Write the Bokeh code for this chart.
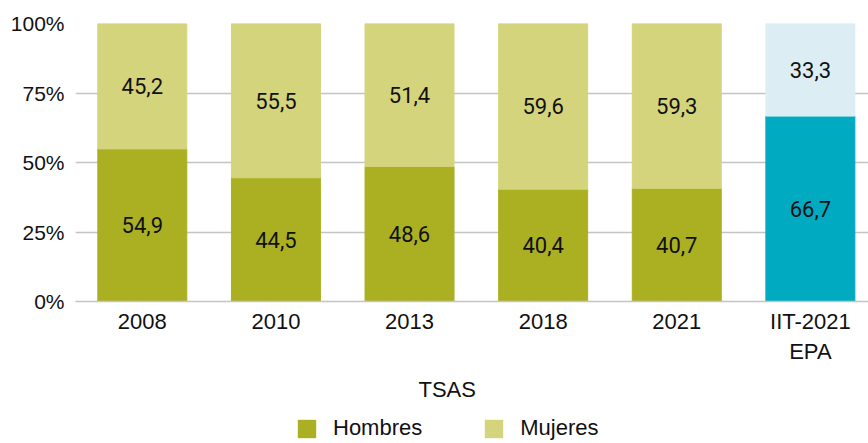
from bokeh.plotting import figure
from bokeh.models import (ColumnDataSource, Range1d, FixedTicker, Legend, LegendItem,
                          Title, LabelSet)
from bokeh.layouts import column
from bokeh.core.properties import value
from bokeh.embed import file_html
from bokeh.resources import INLINE

categories = ["2008", "2010", "2013", "2018", "2021", "IIT-2021\nEPA"]
hombres = [54.9, 44.5, 48.6, 40.4, 40.7, 66.7]
mujeres = [45.2, 55.5, 51.4, 59.6, 59.3, 33.3]
hombres_colors = ["#abb023", "#abb023", "#abb023", "#abb023", "#abb023", "#00abc2"]
mujeres_colors = ["#d4d47c", "#d4d47c", "#d4d47c", "#d4d47c", "#d4d47c", "#ddedf4"]
y_ticks = [0, 25, 50, 75, 100]
x_title = "TSAS"
series_names = ["Hombres", "Mujeres"]

fmt = lambda v: f"{v:.1f}".replace(".", ",")
xs = list(range(len(categories)))
src = ColumnDataSource(dict(
    x=xs,
    h=hombres,
    m_top=[a + b for a, b in zip(hombres, mujeres)],
    h_mid=[a / 2 for a in hombres],
    m_mid=[a + b / 2 for a, b in zip(hombres, mujeres)],
    h_lab=[fmt(v) for v in hombres],
    m_lab=[fmt(v) for v in mujeres],
    hc=hombres_colors,
    mc=mujeres_colors,
))

p = figure(width=868, height=409, output_backend="svg", toolbar_location=None,
           x_range=Range1d(-0.5, 5.435), y_range=Range1d(0, 100),
           min_border_left=75, min_border_right=0, min_border_top=23,
           min_border_bottom=107)
p.outline_line_color = None
p.background_fill_color = "white"

r_h = p.vbar(x="x", bottom=0, top="h", width=0.666, color="hc", source=src)
r_m = p.vbar(x="x", bottom="h", top="m_top", width=0.666, color="mc", source=src)

for col_y, col_t in (("h_mid", "h_lab"), ("m_mid", "m_lab")):
    p.add_layout(LabelSet(x="x", y=col_y, text=col_t, source=src,
                          text_align="center", text_baseline="middle",
                          text_font=value("Roboto"), text_font_size=value("22px"),
                          text_color="#111111"))

# axes
p.yaxis.ticker = FixedTicker(ticks=y_ticks)
p.yaxis.major_label_overrides = {t: f"{t}%" for t in y_ticks}
p.yaxis.axis_line_color = None
p.yaxis.major_tick_line_color = None
p.yaxis.minor_tick_line_color = None
p.yaxis.major_label_standoff = 5
p.yaxis.major_label_text_font = "Liberation Sans"
p.yaxis.major_label_text_font_size = "21px"
p.yaxis.major_label_text_color = "#111111"

p.xaxis.ticker = FixedTicker(ticks=xs)
p.xaxis.major_label_overrides = {i: c for i, c in zip(xs, categories)}
p.xaxis.axis_line_color = "#c4c4c4"
p.xaxis.axis_line_width = 1.5
p.xaxis.major_tick_line_color = None
p.xaxis.minor_tick_line_color = None
p.xaxis.major_label_standoff = 1
p.xaxis.major_label_text_font = "Liberation Sans"
p.xaxis.major_label_text_font_size = "22px"
p.xaxis.major_label_text_color = "#111111"

p.xgrid.grid_line_color = None
p.ygrid.grid_line_color = "#c4c4c4"
p.ygrid.grid_line_width = 1.5
p.ygrid.level = "underlay"

p.add_layout(Title(text=x_title, align="left", offset=343, standoff=16,
                   text_font="Liberation Sans", text_font_size="22px",
                   text_font_style="normal", text_color="#111111"), "below")

# legend strip: zero-width, outline-free bars draw nothing; only swatches show
pl = figure(width=868, height=34, output_backend="svg", toolbar_location=None,
            x_range=Range1d(-0.5, 5.435), y_range=Range1d(-2, -1), min_border=0)
pl.axis.visible = False
pl.grid.grid_line_color = None
pl.outline_line_color = None
lsrc = ColumnDataSource(dict(x=xs, h=hombres, m=mujeres))
lh = pl.vbar(x="x", top="h", width=0, fill_color=hombres_colors[0], line_color=None, source=lsrc)
lm = pl.vbar(x="x", top="m", width=0, fill_color=mujeres_colors[0], line_color=None, source=lsrc)
legend = Legend(items=[LegendItem(label=series_names[0], renderers=[lh]),
                       LegendItem(label=series_names[1], renderers=[lm])],
                location=(220, 2), orientation="horizontal",
                glyph_width=23, glyph_height=23, label_standoff=15, spacing=60,
                padding=0, margin=0, border_line_color=None,
                background_fill_alpha=0,
                label_text_font="Liberation Sans", label_text_font_size="22px",
                label_text_color="#111111")
pl.add_layout(legend, "center")

open("out.html", "w").write(file_html(column(p, pl, spacing=0), INLINE))
